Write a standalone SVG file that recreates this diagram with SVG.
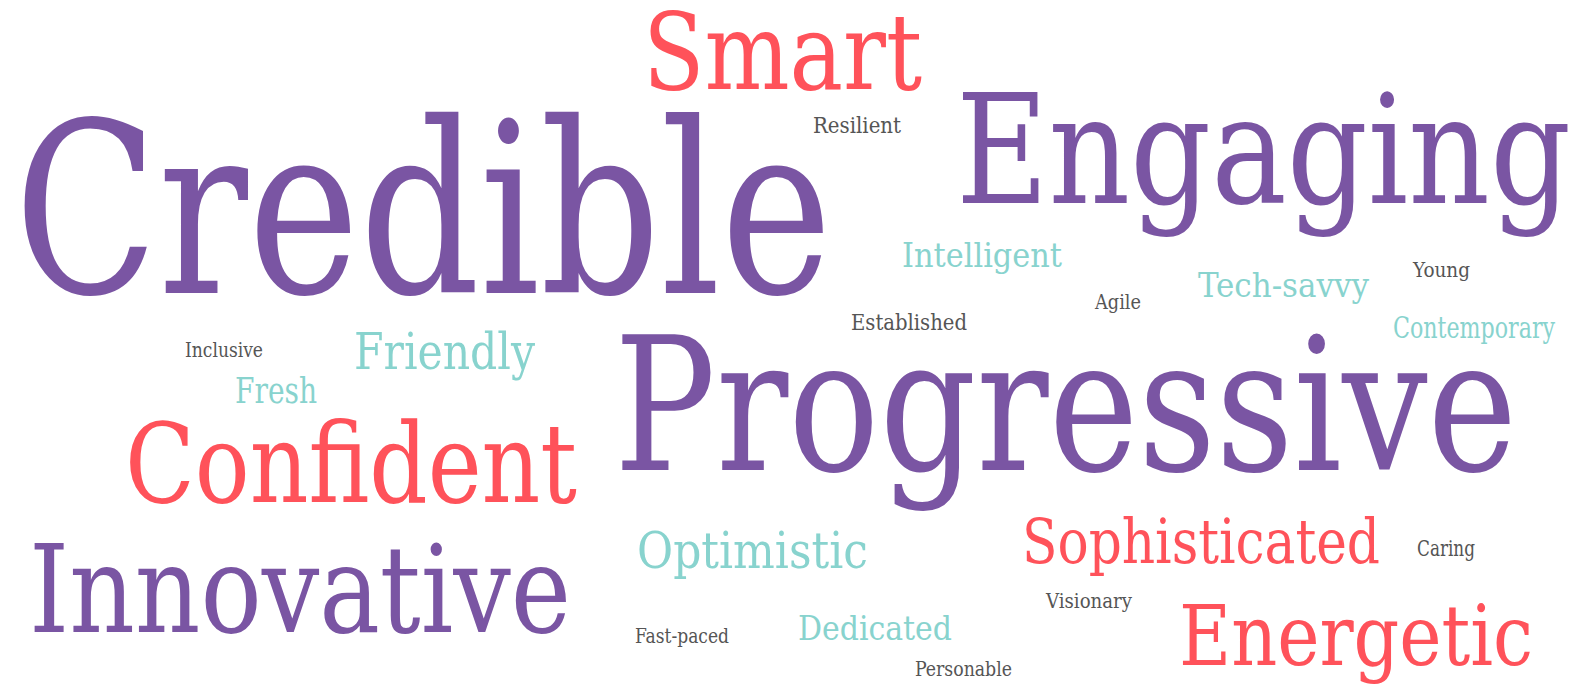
<svg xmlns="http://www.w3.org/2000/svg" width="1593" height="686" viewBox="0 0 1593 686">
<style>
text{font-family:"DejaVu Serif Condensed","DejaVu Serif","Liberation Serif",serif;font-stretch:condensed}
.p{fill:#7A55A3}
.r{fill:#FF525A}
.t{fill:#88D3CE}
.g{fill:#555555}
</style>
<rect width="1593" height="686" fill="#ffffff"/>
<g id="smart"><text class="r" x="643" y="89" font-size="106" textLength="279" lengthAdjust="spacingAndGlyphs">Smart</text></g>
<g id="credible"><text class="p" x="14" y="293" font-size="238" textLength="818" lengthAdjust="spacingAndGlyphs">Credible</text></g>
<g id="resilient"><text class="g" x="813" y="133" font-size="23" textLength="88" lengthAdjust="spacingAndGlyphs">Resilient</text></g>
<g id="engaging"><text class="p" x="956" y="203" font-size="151" textLength="615" lengthAdjust="spacingAndGlyphs">Engaging</text></g>
<g id="intelligent"><text class="t" x="902" y="267" font-size="33" textLength="160" lengthAdjust="spacingAndGlyphs">Intelligent</text></g>
<g id="tech-savvy"><text class="t" x="1198" y="297" font-size="34" textLength="171" lengthAdjust="spacingAndGlyphs">Tech-savvy</text></g>
<g id="young"><text class="g" x="1413" y="277" font-size="21" textLength="57" lengthAdjust="spacingAndGlyphs">Young</text></g>
<g id="agile"><text class="g" x="1095" y="309" font-size="20" textLength="46" lengthAdjust="spacingAndGlyphs">Agile</text></g>
<g id="established"><text class="g" x="851" y="330" font-size="22" textLength="116" lengthAdjust="spacingAndGlyphs">Established</text></g>
<g id="contemporary"><text class="t" x="1393" y="338" font-size="29" textLength="162" lengthAdjust="spacingAndGlyphs">Contemporary</text></g>
<g id="inclusive"><text class="g" x="185" y="357" font-size="21" textLength="78" lengthAdjust="spacingAndGlyphs">Inclusive</text></g>
<g id="friendly"><text class="t" x="354" y="369" font-size="51" textLength="181" lengthAdjust="spacingAndGlyphs">Friendly</text></g>
<g id="fresh"><text class="t" x="235" y="403" font-size="35" textLength="82" lengthAdjust="spacingAndGlyphs">Fresh</text></g>
<g id="confident"><text class="r" x="125" y="502" font-size="110" textLength="452" lengthAdjust="spacingAndGlyphs">Confident</text></g>
<g id="progressive"><text class="p" x="614" y="470" font-size="185" textLength="903" lengthAdjust="spacingAndGlyphs">Progressive</text></g>
<g id="innovative"><text class="p" x="29" y="632" font-size="122" textLength="542" lengthAdjust="spacingAndGlyphs">Innovative</text></g>
<g id="optimistic"><text class="t" x="637" y="568" font-size="51" textLength="231" lengthAdjust="spacingAndGlyphs">Optimistic</text></g>
<g id="fast-paced"><text class="g" x="635" y="643" font-size="21" textLength="94" lengthAdjust="spacingAndGlyphs">Fast-paced</text></g>
<g id="sophisticated"><text class="r" x="1022" y="563" font-size="62" textLength="358" lengthAdjust="spacingAndGlyphs">Sophisticated</text></g>
<g id="caring"><text class="g" x="1417" y="556" font-size="22" textLength="58" lengthAdjust="spacingAndGlyphs">Caring</text></g>
<g id="visionary"><text class="g" x="1046" y="608" font-size="20" textLength="86" lengthAdjust="spacingAndGlyphs">Visionary</text></g>
<g id="dedicated"><text class="t" x="798" y="640" font-size="34" textLength="154" lengthAdjust="spacingAndGlyphs">Dedicated</text></g>
<g id="personable"><text class="g" x="915" y="676" font-size="20" textLength="97" lengthAdjust="spacingAndGlyphs">Personable</text></g>
<g id="energetic"><text class="r" x="1179" y="665" font-size="84" textLength="354" lengthAdjust="spacingAndGlyphs">Energetic</text></g>
</svg>
